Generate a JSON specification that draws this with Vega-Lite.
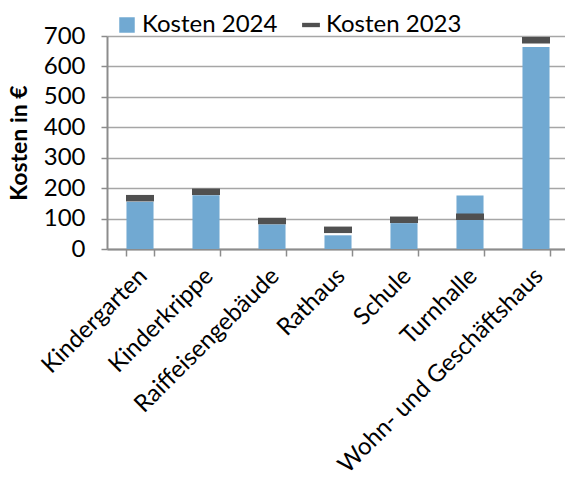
{
  "$schema": "https://vega.github.io/schema/vega-lite/v6.json",
  "autosize": {"type": "none"},
  "padding": {"left": 107, "top": 36, "right": 0, "bottom": 238},
  "width": 458,
  "height": 213,
  "background": "white",
  "config": {
    "view": {"stroke": null},
    "font": "Lato",
    "axis": {"labelFont": "Lato", "titleFont": "Lato", "labelColor": "black", "titleColor": "black"},
    "axisY": {
      "title": "Kosten in €",
      "titleFontSize": 23,
      "titleFontWeight": "bold",
      "titlePadding": 12,
      "values": [0, 100, 200, 300, 400, 500, 600, 700],
      "labelOverlap": false,
      "labelFontSize": 24,
      "labelPadding": 16,
      "tickSize": 6,
      "tickColor": "#8c8c8c",
      "tickWidth": 1.5,
      "domainColor": "#8c8c8c",
      "domainWidth": 2,
      "gridColor": "#a6a6a6",
      "gridWidth": 1.5
    }
  },
  "data": {
    "values": [
      {"name": "Kindergarten", "k2024": 155, "k2023": 167},
      {"name": "Kinderkrippe", "k2024": 177, "k2023": 188},
      {"name": "Raiffeisengebäude", "k2024": 81, "k2023": 92},
      {"name": "Rathaus", "k2024": 45, "k2023": 63},
      {"name": "Schule", "k2024": 85, "k2023": 96},
      {"name": "Turnhalle", "k2024": 176, "k2023": 106},
      {"name": "Wohn- und Geschäftshaus", "k2024": 664, "k2023": 686}
    ]
  },
  "encoding": {
    "x": {
      "field": "name",
      "type": "nominal",
      "sort": null,
      "scale": {"range": [0, 462], "paddingInner": 0.59, "paddingOuter": 0.295},
      "axis": {
        "title": null,
        "labelAngle": -45,
        "labelAlign": "right",
        "labelBaseline": "middle",
        "labelFontSize": 24,
        "labelPadding": 16,
        "labelOffset": 3,
        "labelLimit": 400,
        "labelOverlap": false,
        "tickBand": "extent",
        "tickSize": 7,
        "tickColor": "#8c8c8c",
        "tickWidth": 1.5,
        "domainColor": "#8c8c8c",
        "domainWidth": 2,
        "grid": false
      }
    }
  },
  "layer": [
    {
      "mark": {"type": "bar"},
      "encoding": {
        "y": {
          "field": "k2024",
          "type": "quantitative",
          "title": "Kosten in €",
          "scale": {"domain": [0, 700], "nice": false}
        },
        "color": {
          "datum": "Kosten 2024",
          "type": "nominal",
          "scale": {"domain": ["Kosten 2024", "Kosten 2023"], "range": ["#71A9D2", "#505050"]},
          "legend": {
            "title": null,
            "orient": "none",
            "direction": "horizontal",
            "legendX": 8,
            "legendY": -23,
            "padding": 0,
            "labelFont": "Lato",
            "labelFontSize": 24,
            "labelColor": "black",
            "labelOffset": 3,
            "columnPadding": 21,
            "symbolSize": 240,
            "symbolType": "square",
            "symbolStrokeWidth": 0,
            "symbolOpacity": 1,
            "encode": {
              "symbols": {
                "update": {
                  "shape": {"signal": "datum.value === 'Kosten 2023' ? 'M-1.15,-0.28H1.15V0.28H-1.15Z' : 'square'"},
                  "strokeWidth": {"value": 0},
                  "opacity": {"value": 1}
                }
              }
            }
          }
        }
      }
    },
    {
      "mark": {"type": "tick", "size": 28, "thickness": 6.5, "opacity": 1},
      "encoding": {
        "y": {"field": "k2023", "type": "quantitative", "title": "Kosten in €"},
        "color": {"datum": "Kosten 2023", "type": "nominal"}
      }
    }
  ]
}
